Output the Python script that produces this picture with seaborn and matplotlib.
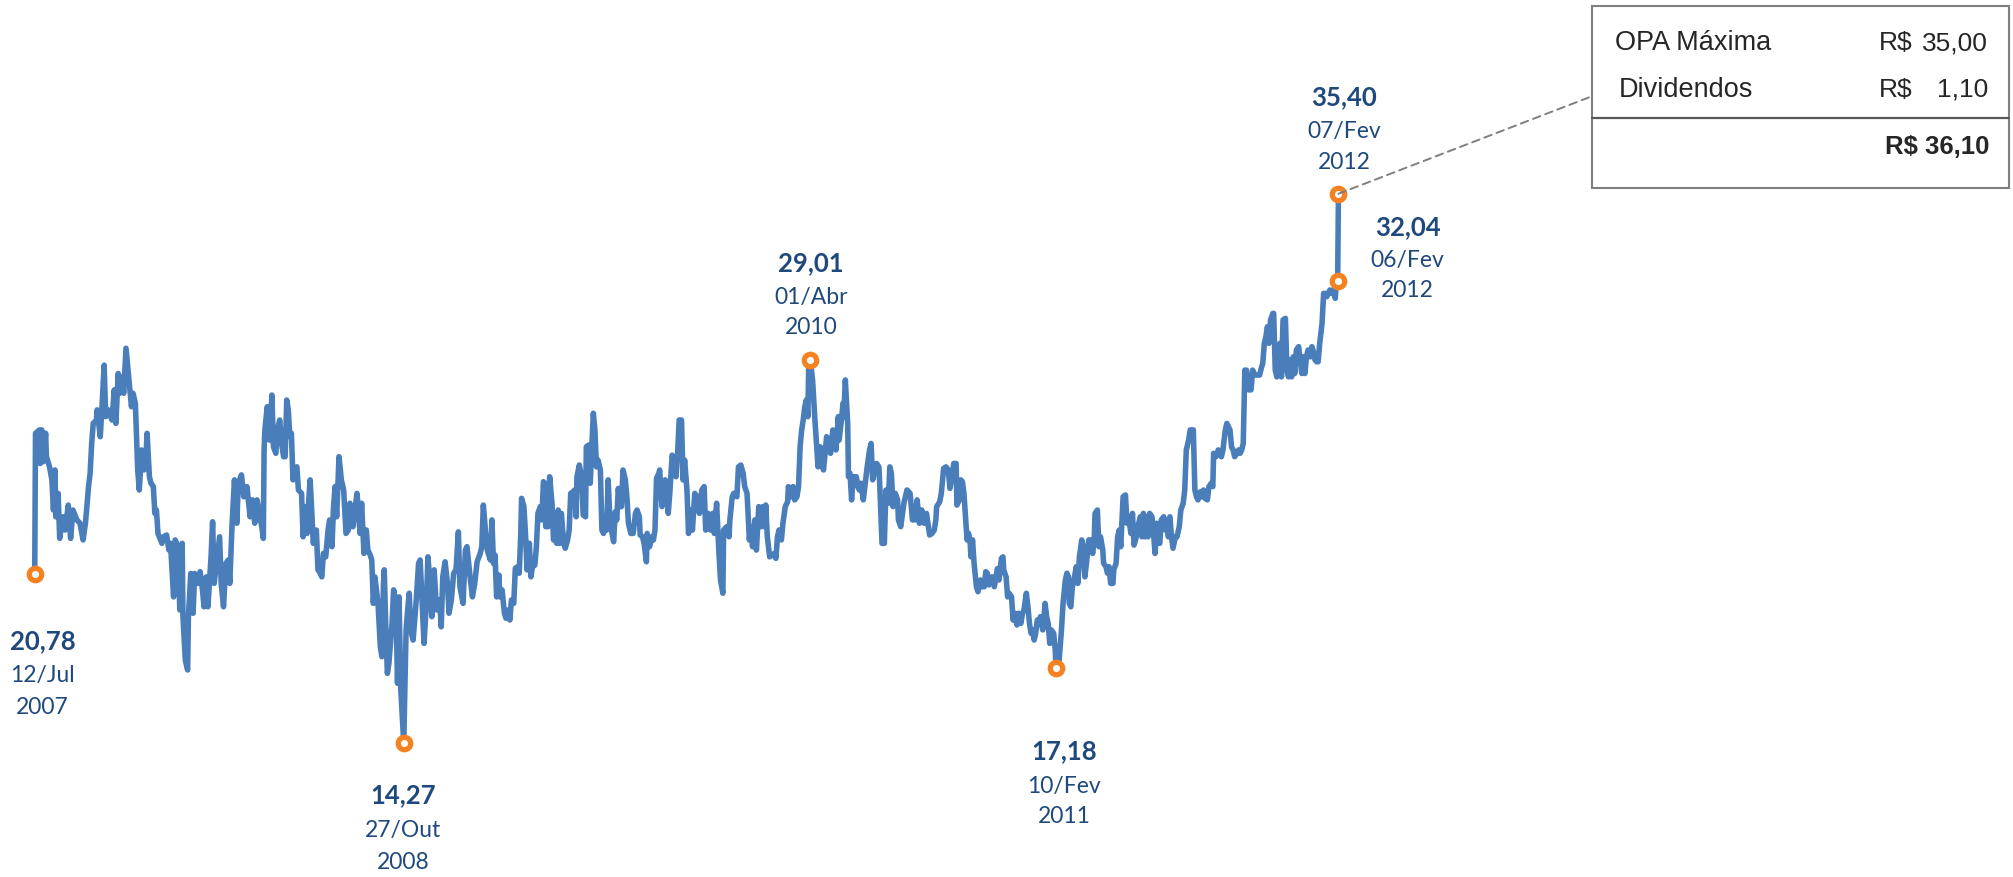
import matplotlib
matplotlib.use("Agg")
import matplotlib.pyplot as plt
import matplotlib.dates as mdates
import numpy as np
import pandas as pd
import seaborn as sns
from matplotlib.patches import Rectangle, ConnectionPatch

# ---------------------------------------------------------------------------
# Cotação diária (dias corridos desde o início da série, preço de fechamento em R$)
# ---------------------------------------------------------------------------
inicio = pd.Timestamp("2007-07-12")

dias = [
    0, 1, 6, 7, 9, 11, 14, 15, 19, 22, 24, 26, 27, 30, 32, 36, 39, 43, 46, 49,
    54, 58, 62, 65, 69, 71, 73, 75, 79, 80, 84, 86, 89, 91, 94, 99, 102, 104, 107, 109,
    112, 114, 117, 120, 124, 126, 129, 132, 134, 137, 140, 143, 144, 147, 149, 152, 154, 156, 158, 163,
    165, 169, 172, 174, 178, 180, 182, 184, 186, 189, 190, 193, 196, 197, 200, 203, 205, 209, 212, 215,
    217, 220, 222, 226, 228, 230, 233, 237, 239, 242, 245, 248, 250, 253, 256, 259, 261, 265, 268, 272,
    276, 279, 282, 285, 288, 291, 293, 294, 295, 298, 301, 304, 306, 309, 311, 314, 317, 319, 321, 323,
    325, 327, 329, 331, 334, 336, 338, 342, 344, 346, 349, 351, 353, 355, 357, 361, 363, 366, 368, 370,
    373, 376, 378, 381, 383, 385, 387, 390, 393, 396, 399, 402, 404, 408, 411, 413, 415, 417, 419, 422,
    425, 427, 430, 432, 434, 436, 438, 440, 443, 445, 447, 448, 450, 452, 454, 458, 460, 463, 465, 467,
    469, 473, 476, 478, 480, 482, 485, 489, 492, 494, 497, 499, 502, 504, 507, 509, 512, 515, 519, 521,
    523, 526, 529, 531, 534, 537, 540, 543, 545, 549, 552, 554, 558, 561, 564, 567, 571, 573, 575, 578,
    580, 584, 586, 588, 590, 592, 595, 596, 599, 602, 604, 607, 609, 611, 614, 616, 619, 621, 623, 624,
    627, 629, 631, 634, 636, 638, 641, 643, 645, 648, 650, 652, 654, 655, 658, 660, 663, 665, 667, 669,
    671, 673, 675, 678, 680, 683, 685, 687, 690, 692, 694, 695, 698, 701, 703, 706, 707, 710, 712, 714,
    716, 718, 720, 722, 725, 727, 729, 731, 733, 735, 737, 740, 742, 744, 746, 748, 750, 752, 754, 757,
    759, 761, 764, 767, 770, 772, 775, 776, 779, 781, 784, 785, 788, 791, 793, 795, 797, 800, 801, 804,
    806, 808, 810, 812, 814, 817, 819, 822, 824, 826, 829, 831, 833, 836, 838, 841, 843, 846, 849, 852,
    855, 858, 860, 863, 866, 869, 871, 874, 877, 879, 882, 883, 887, 890, 891, 894, 896, 900, 902, 905,
    908, 910, 913, 916, 918, 920, 923, 925, 928, 931, 933, 935, 937, 939, 942, 945, 948, 950, 952, 954,
    957, 959, 962, 965, 966, 969, 972, 974, 977, 979, 981, 983, 985, 987, 989, 991, 992, 994, 997, 999,
    1000, 1002, 1004, 1007, 1009, 1011, 1013, 1015, 1018, 1020, 1023, 1024, 1027, 1030, 1031, 1034, 1036, 1037, 1039, 1042,
    1043, 1045, 1047, 1049, 1053, 1055, 1057, 1059, 1062, 1065, 1067, 1070, 1072, 1074, 1077, 1079, 1082, 1083, 1086, 1089,
    1091, 1094, 1096, 1098, 1100, 1103, 1106, 1107, 1110, 1114, 1118, 1122, 1125, 1128, 1131, 1134, 1137, 1140, 1143, 1147,
    1150, 1153, 1155, 1156, 1160, 1162, 1165, 1168, 1171, 1173, 1175, 1178, 1181, 1182, 1185, 1187, 1189, 1191, 1193, 1195,
    1197, 1199, 1200, 1202, 1204, 1207, 1209, 1212, 1214, 1217, 1219, 1221, 1223, 1227, 1230, 1232, 1234, 1236, 1239, 1241,
    1242, 1245, 1247, 1249, 1252, 1254, 1256, 1259, 1261, 1264, 1266, 1268, 1271, 1273, 1275, 1277, 1279, 1281, 1283, 1285,
    1288, 1289, 1292, 1294, 1295, 1297, 1299, 1301, 1303, 1306, 1308, 1309, 1313, 1316, 1318, 1321, 1323, 1325, 1326, 1328,
    1330, 1332, 1335, 1337, 1339, 1342, 1344, 1346, 1348, 1351, 1353, 1356, 1358, 1359, 1362, 1364, 1366, 1369, 1370, 1373,
    1375, 1377, 1379, 1382, 1383, 1386, 1388, 1390, 1392, 1395, 1398, 1400, 1402, 1405, 1407, 1409, 1411, 1414, 1417, 1419,
    1421, 1423, 1425, 1427, 1429, 1432, 1434, 1436, 1438, 1440, 1442, 1444, 1447, 1449, 1451, 1453, 1455, 1457, 1459, 1462,
    1464, 1467, 1469, 1472, 1474, 1476, 1479, 1481, 1483, 1485, 1487, 1489, 1491, 1494, 1496, 1498, 1500, 1503, 1505, 1508,
    1510, 1511, 1514, 1517, 1519, 1521, 1523, 1526, 1528, 1530, 1532, 1534, 1536, 1538, 1541, 1543, 1545, 1547, 1549, 1551,
    1553, 1556, 1559, 1561, 1564, 1567, 1570, 1572, 1574, 1576, 1578, 1580, 1582, 1584, 1587, 1588, 1590, 1592, 1594, 1596,
    1598, 1600, 1603, 1605, 1607, 1609, 1611, 1613, 1615, 1617, 1620, 1622, 1624, 1626, 1628, 1630, 1632, 1635, 1637, 1639,
    1641, 1643, 1645, 1647, 1650, 1652, 1654, 1656, 1658, 1660, 1662, 1664, 1667, 1668, 1670, 1671,
]

precos = [
    20.78, 26.19, 26.32, 25.03, 26.32, 25.10, 26.19, 25.29, 24.90, 24.40, 23.24, 24.78, 22.98, 23.88, 22.15, 22.98, 22.47, 23.43, 22.15, 23.24,
    22.86, 22.73, 22.09, 22.73, 24.14, 24.65, 25.80, 26.57, 26.70, 27.09, 26.06, 27.09, 28.81, 26.83, 27.09, 26.70, 27.86, 26.57, 28.49, 27.73,
    28.36, 27.73, 29.46, 28.49, 27.21, 27.73, 27.34, 24.78, 24.01, 25.55, 24.78, 25.55, 26.19, 24.52, 24.27, 24.14, 23.11, 23.24, 22.34, 21.96,
    22.21, 22.28, 21.70, 21.96, 19.90, 22.09, 21.96, 21.19, 19.40, 21.96, 19.14, 17.47, 17.09, 19.14, 20.80, 19.27, 20.80, 20.42, 20.87, 20.17,
    19.52, 20.67, 19.52, 21.44, 22.79, 20.42, 21.19, 22.21, 20.42, 19.52, 21.19, 21.32, 20.42, 22.73, 24.40, 22.73, 24.27, 24.59, 23.75, 24.14,
    22.98, 23.63, 22.73, 23.63, 23.11, 22.60, 22.15, 25.55, 26.32, 27.21, 25.93, 27.66, 25.67, 25.42, 26.32, 26.70, 25.67, 25.29, 25.29, 27.47,
    27.09, 26.06, 26.19, 24.40, 24.78, 24.90, 24.01, 23.88, 22.21, 23.37, 22.34, 23.50, 24.40, 23.24, 21.96, 22.47, 20.94, 20.81, 20.67, 21.57,
    21.44, 22.47, 22.86, 21.83, 23.37, 24.14, 22.98, 25.29, 24.40, 24.01, 22.34, 22.47, 23.50, 22.60, 23.37, 23.88, 23.24, 22.34, 23.50, 21.57,
    22.47, 21.70, 21.51, 21.32, 19.65, 20.67, 20.17, 19.65, 17.98, 17.60, 20.42, 20.94, 18.75, 16.96, 17.35, 18.88, 20.17, 19.65, 16.58, 19.90,
    16.45, 14.27, 18.63, 19.40, 20.04, 18.63, 18.24, 19.78, 21.19, 21.32, 19.40, 18.11, 19.65, 21.44, 20.29, 19.14, 20.94, 19.40, 19.78, 18.75,
    20.67, 21.25, 20.42, 19.27, 19.78, 20.81, 20.94, 22.40, 20.29, 19.65, 21.70, 21.83, 20.67, 19.90, 20.42, 21.25, 21.57, 21.83, 23.43, 22.34,
    21.70, 21.32, 22.86, 21.19, 21.51, 19.90, 20.74, 19.90, 20.17, 19.27, 19.08, 19.40, 19.01, 19.78, 19.65, 21.00, 21.06, 20.81, 22.34, 23.69,
    23.37, 22.34, 20.94, 21.96, 20.67, 21.06, 21.12, 21.83, 23.11, 23.37, 22.86, 24.33, 24.27, 22.60, 22.60, 24.52, 23.50, 22.09, 22.86, 21.96,
    23.24, 21.96, 23.11, 21.96, 21.77, 22.09, 22.47, 23.88, 23.94, 24.01, 22.98, 24.52, 24.97, 24.52, 23.05, 22.98, 25.67, 25.74, 24.27, 25.67,
    26.96, 26.32, 24.90, 25.16, 24.78, 22.47, 22.34, 22.60, 22.47, 24.40, 22.98, 22.34, 22.02, 23.17, 22.86, 24.07, 23.37, 23.37, 24.78, 24.40,
    23.75, 22.73, 22.34, 22.34, 23.11, 23.24, 22.98, 22.28, 22.21, 21.96, 21.25, 22.34, 21.83, 22.21, 22.09, 22.47, 24.46, 24.65, 24.78, 23.37,
    23.63, 24.40, 24.14, 23.11, 23.88, 25.35, 25.16, 24.52, 25.42, 26.70, 26.70, 24.40, 25.16, 24.01, 22.34, 23.24, 22.47, 23.88, 23.75, 23.11,
    24.01, 24.14, 22.47, 23.11, 22.47, 23.11, 22.34, 23.50, 21.57, 20.55, 20.04, 22.47, 22.60, 22.21, 22.86, 23.75, 23.88, 23.75, 24.90, 24.97,
    24.65, 24.14, 23.88, 22.09, 22.60, 21.83, 22.86, 21.70, 23.37, 22.60, 23.37, 22.60, 23.43, 22.21, 21.44, 21.51, 21.57, 21.38, 22.21, 22.47,
    22.09, 22.73, 23.37, 23.56, 24.14, 23.75, 24.14, 23.63, 23.75, 24.14, 25.67, 26.32, 26.70, 27.21, 27.47, 26.83, 28.75, 29.01, 28.24, 27.21,
    26.70, 25.80, 24.90, 25.67, 25.03, 24.78, 25.42, 26.06, 25.80, 25.42, 26.32, 26.06, 25.55, 26.83, 25.93, 26.70, 27.34, 26.83, 28.24, 26.57,
    24.52, 24.65, 23.63, 24.52, 24.52, 24.14, 24.01, 24.27, 23.63, 24.40, 24.90, 25.55, 25.80, 24.40, 24.78, 25.03, 24.90, 24.27, 21.96, 21.96,
    24.01, 23.50, 24.90, 24.65, 23.37, 23.88, 23.63, 22.86, 22.60, 23.50, 24.01, 23.88, 22.86, 22.86, 23.63, 22.73, 23.24, 22.73, 23.11, 22.28,
    22.34, 22.47, 22.86, 23.37, 23.56, 23.88, 24.84, 24.90, 24.78, 24.07, 24.40, 25.03, 25.03, 23.43, 23.63, 24.40, 24.33, 23.88, 22.98, 22.09,
    22.34, 21.96, 21.44, 22.09, 21.19, 20.29, 20.10, 20.55, 20.29, 20.29, 20.87, 20.81, 20.36, 20.67, 20.29, 20.67, 20.99, 20.55, 21.38, 21.44,
    20.94, 20.67, 19.90, 20.04, 19.90, 19.01, 19.27, 18.82, 19.27, 18.88, 19.27, 19.40, 20.04, 19.52, 18.88, 18.50, 18.63, 18.24, 18.50, 19.01,
    18.88, 19.14, 18.63, 19.27, 19.65, 19.14, 18.88, 18.11, 18.63, 18.50, 17.86, 17.18, 17.47, 18.63, 19.65, 20.55, 20.81, 20.67, 19.65, 19.52,
    20.29, 20.55, 21.06, 20.42, 21.44, 22.09, 21.83, 20.67, 21.19, 22.09, 22.09, 21.57, 22.09, 23.11, 23.24, 21.83, 22.21, 21.70, 21.19, 21.06,
    20.81, 21.06, 20.42, 20.42, 20.94, 21.19, 22.21, 22.47, 21.83, 23.75, 23.82, 22.73, 22.98, 22.34, 23.11, 21.89, 22.09, 22.60, 22.98, 22.21,
    23.11, 22.21, 22.98, 22.21, 23.11, 22.98, 22.34, 21.57, 22.73, 22.09, 21.96, 22.86, 22.98, 22.47, 22.86, 22.21, 22.98, 22.21, 21.77, 22.21,
    22.21, 22.60, 23.24, 23.50, 24.01, 25.55, 25.93, 26.32, 26.32, 26.32, 24.01, 23.75, 23.63, 23.94, 23.75, 24.01, 23.69, 23.63, 24.14, 24.27,
    24.14, 25.42, 25.29, 25.55, 25.42, 25.29, 25.55, 26.32, 26.57, 26.44, 26.32, 25.67, 25.55, 25.29, 25.42, 25.55, 25.42, 25.55, 25.80, 28.62,
    28.62, 27.86, 27.86, 28.62, 28.43, 28.43, 28.43, 28.68, 28.88, 29.65, 29.90, 30.29, 29.65, 30.55, 30.80, 30.80, 28.62, 28.36, 28.49, 29.65,
    28.36, 30.55, 30.61, 28.62, 28.36, 29.01, 28.36, 29.13, 28.49, 29.39, 29.52, 29.01, 28.49, 29.13, 28.49, 29.13, 29.39, 29.13, 29.52, 29.33,
    29.01, 28.94, 28.94, 29.65, 30.42, 31.57, 31.57, 31.44, 31.57, 31.70, 31.57, 31.70, 31.38, 31.96, 32.04, 35.40,
]

# Pontos em destaque (mínimos, máximos e extremos da série)
destaque_datas = ["2007-07-12", "2008-10-27", "2010-04-01", "2011-02-10", "2012-02-06", "2012-02-07"]
destaque_precos = [20.78, 14.27, 29.01, 17.18, 32.04, 35.40]
meses = ["Jan", "Fev", "Mar", "Abr", "Mai", "Jun", "Jul", "Ago", "Set", "Out", "Nov", "Dez"]

# Composição do valor da oferta
opa_maxima = 35.00
dividendos = 1.10

# ---------------------------------------------------------------------------
AZUL = "#4A7EBB"
LARANJA = "#F58220"
AZUL_TEXTO = "#1F497D"
CINZA = "#7F7F7F"
TEXTO_TABELA = "#262626"

W, H = 2013, 877
sns.set_theme(style="white")
plt.rcParams["font.family"] = ["Lato", "DejaVu Sans"]

fig = plt.figure(figsize=(W / 100, H / 100), dpi=100)
fig.patch.set_facecolor("white")
ax = fig.add_axes([0, 0, 1, 1])

serie = pd.DataFrame({"data": inicio + pd.to_timedelta(dias, unit="D"), "preco": precos})
dest = pd.DataFrame({"data": pd.to_datetime(destaque_datas), "preco": destaque_precos})

sns.lineplot(data=serie, x="data", y="preco", ax=ax, color=AZUL, linewidth=4.0,
             estimator=None, sort=False, legend=False, zorder=2)
for ln in ax.lines:
    ln.set_solid_joinstyle("round")
    ln.set_solid_capstyle("round")

sns.scatterplot(data=dest, x="data", y="preco", ax=ax, s=80, color="white",
                edgecolor=LARANJA, linewidth=3.8, zorder=5, legend=False)

ax.set_xlim(inicio - pd.Timedelta(days=44.5), inicio + pd.Timedelta(days=2535.6))
ax.set_ylim(9.13, 42.85)
ax.set_axis_off()


def brl(v):
    return f"{v:.2f}".replace(".", ",")


# deslocamentos (px) dos rótulos: valor, dia/mês e ano
rotulo_dx = [8, -1, 1, 8, 70, 6]
rotulo_dy = [(-67, -101, -133), (-52, -87, -119), (97, 62, 32),
             (-84, -119, -149), (54, 21, -9), (97, 62, 31)]

for d, p, dx, (dy1, dy2, dy3) in zip(dest["data"], dest["preco"], rotulo_dx, rotulo_dy):
    linhas = [(brl(p), "bold", 18.5, dy1),
              (f"{d.day:02d}/{meses[d.month - 1]}", "normal", 16.5, dy2),
              (f"{d.year}", "normal", 16.5, dy3)]
    for txt, peso, tam, dy in linhas:
        ax.annotate(txt, xy=(mdates.date2num(d), p), xytext=(dx, dy), textcoords="offset pixels",
                    ha="center", va="center", fontsize=tam, fontweight=peso,
                    color=AZUL_TEXTO, zorder=6)

# ---------------------------------------------------------------------------
# Quadro da oferta (coordenadas em pixels da figura)
def fx(x):
    return x / W


def fy(y):
    return 1 - y / H


bx0, bx1, by0, by1, bdiv = 1592, 2009, 6, 188, 118
fig.add_artist(Rectangle((fx(bx0), fy(by1)), fx(bx1) - fx(bx0), fy(by0) - fy(by1),
                         transform=fig.transFigure, fill=False, edgecolor=CINZA, lw=1.5))
fig.add_artist(plt.Line2D([fx(bx0), fx(bx1)], [fy(bdiv), fy(bdiv)],
                          transform=fig.transFigure, color="#595959", lw=1.6))

fonte_tabela = ["Liberation Sans", "DejaVu Sans"]
linhas_tabela = [("OPA Máxima", opa_maxima, 1615, 43), ("Dividendos", dividendos, 1619, 90)]
for rotulo, valor, xl, yl in linhas_tabela:
    fig.text(fx(xl), fy(yl), rotulo, ha="left", va="center", fontsize=19.5,
             family=fonte_tabela, color=TEXTO_TABELA)
    fig.text(fx(1879), fy(yl), "R$", ha="left", va="center", fontsize=19,
             family=fonte_tabela, color=TEXTO_TABELA)
    fig.text(fx(1988), fy(yl), brl(valor), ha="right", va="center", fontsize=19,
             family=fonte_tabela, color=TEXTO_TABELA)
fig.text(fx(1989), fy(147), f"R$ {brl(opa_maxima + dividendos)}", ha="right", va="center",
         fontsize=18.5, fontweight="bold", family=fonte_tabela, color=TEXTO_TABELA)

# linha tracejada ligando a máxima ao quadro
ultimo = (mdates.date2num(dest["data"].iloc[-1]), dest["preco"].iloc[-1])
conexao = ConnectionPatch(xyA=ultimo, coordsA=ax.transData,
                          xyB=(fx(bx0 - 2), fy(97)), coordsB=fig.transFigure,
                          color=CINZA, lw=1.4, linestyle=(0, (4, 2.7)), zorder=3)
fig.add_artist(conexao)

fig.savefig("out.png", dpi=100, facecolor="white")
